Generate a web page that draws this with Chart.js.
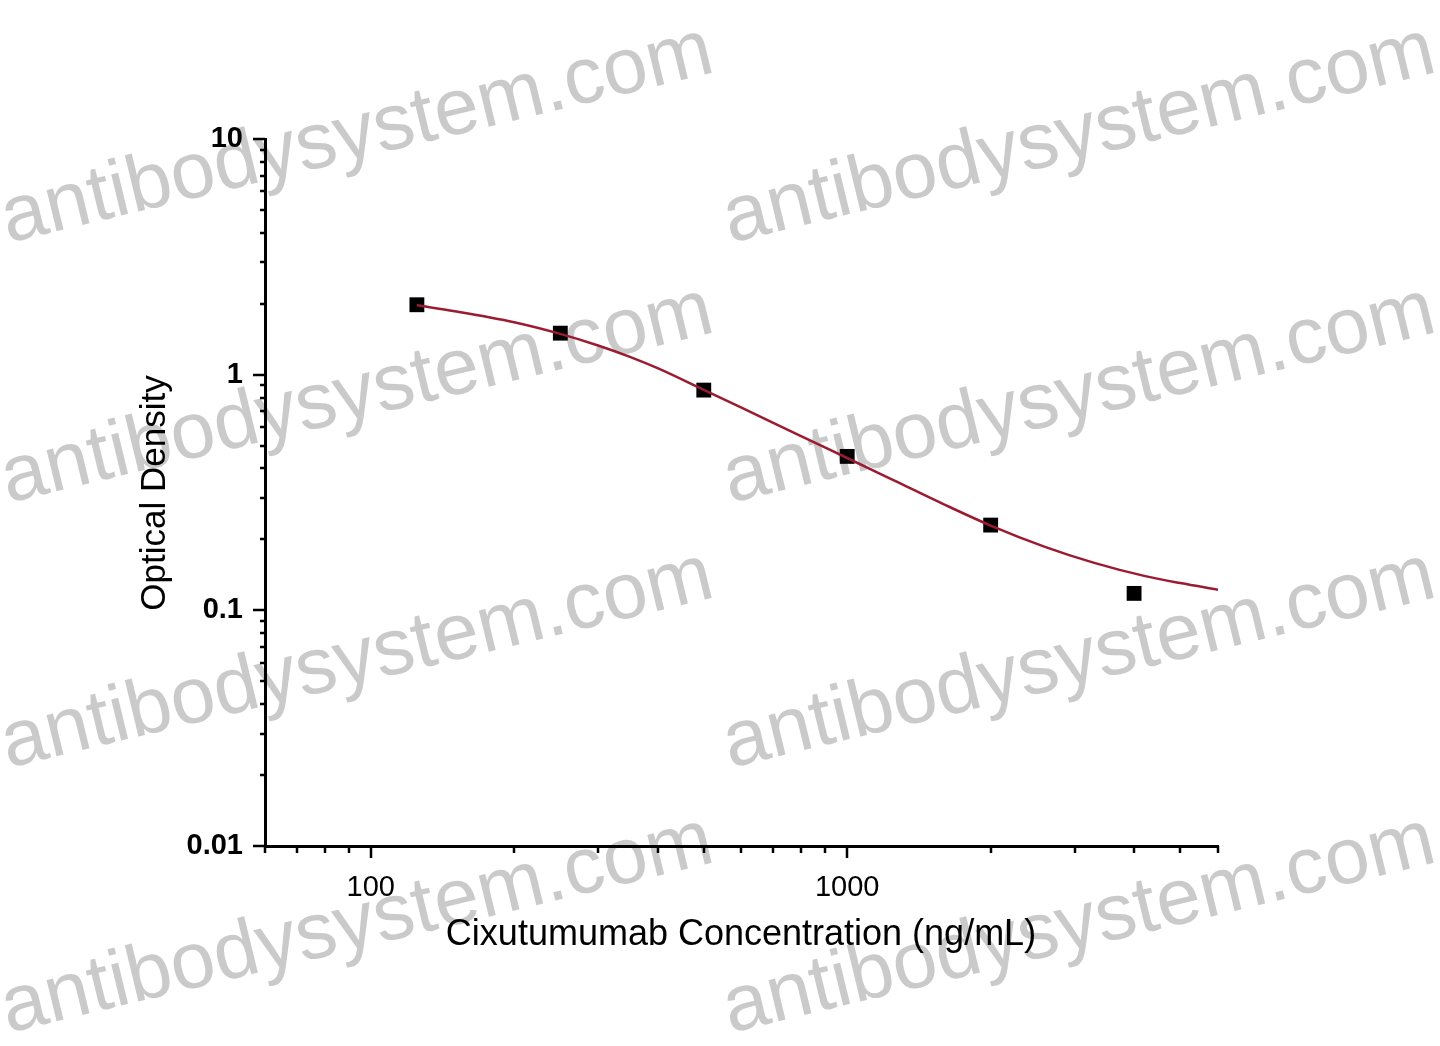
<!DOCTYPE html>
<html>
<head>
<meta charset="utf-8">
<script src="https://cdn.jsdelivr.net/npm/chart.js@4.4.1/dist/chart.umd.min.js"></script>
<style>
  html, body { margin: 0; padding: 0; background: #fff; }
  #wrap { width: 1440px; height: 1046px; }
</style>
</head>
<body>
<div id="wrap"><canvas id="chart" width="1440" height="1046"></canvas></div>
<script>
// === Data ===
const concentrations = [125, 250, 500, 1000, 2000, 4000];
const densities = [1.98, 1.50, 0.86, 0.45, 0.23, 0.118];

// fitted curve
const curveX = [125, 150, 200, 250, 300, 350, 400, 500, 600, 800, 1000, 1250, 1600, 2000, 2600, 3300, 4200, 5000, 6000];
const curveY = [1.97, 1.86, 1.67, 1.49, 1.33, 1.19, 1.065, 0.862, 0.725, 0.548, 0.443, 0.357, 0.281, 0.229, 0.186, 0.159, 0.140, 0.1305, 0.1223];

// axis ranges + labelled ticks
const xRange = [60, 6000];
const yRange = [0.01, 10];
const xTickLabels = [100, 1000];
const yTickLabels = [0.01, 0.1, 1, 10];

const xTitle = "Cixutumumab Concentration (ng/mL)";
const yTitle = "Optical Density";
const watermark = "antibodysystem.com";

const FONT = "'Liberation Sans', Arial, Helvetica, sans-serif";

// === Helpers ===
function logTicks(min, max) {
  const out = [];
  for (let e = Math.floor(Math.log10(min)); e <= Math.ceil(Math.log10(max)); e++) {
    for (let m = 1; m <= 9; m++) {
      const v = Number((m * Math.pow(10, e)).toPrecision(6));
      if (v >= min * 0.999 && v <= max * 1.001) out.push({ v, major: m === 1 });
    }
  }
  return out;
}

// === Plugins ===
const background = {
  id: "background",
  beforeDraw(chart) {
    const { ctx, width, height } = chart;
    ctx.save();
    ctx.fillStyle = "#fff";
    ctx.fillRect(0, 0, width, height);
    // watermark grid (2 columns x 4 rows)
    ctx.fillStyle = "#cacaca";
    ctx.font = `80px ${FONT}`;
    ctx.textBaseline = "alphabetic";
    const rows = [243, 503, 768, 1033];
    const cols = [8, 730];
    rows.forEach(ry => cols.forEach(cx => {
      ctx.save();
      ctx.translate(cx, ry);
      ctx.rotate(-13.6 * Math.PI / 180);
      ctx.fillText(watermark, 0, 0);
      ctx.restore();
    }));
    ctx.restore();
  }
};

const axisDecor = {
  id: "axisDecor",
  afterDraw(chart) {
    const { ctx, chartArea: a, scales: { x, y } } = chart;
    ctx.save();
    ctx.strokeStyle = "#000";
    ctx.lineWidth = 2.5;
    ctx.beginPath();
    logTicks(yRange[0], yRange[1]).forEach(t => {
      const p = Math.round(y.getPixelForValue(t.v));
      ctx.moveTo(a.left - (t.major ? 12 : 5), p);
      ctx.lineTo(a.left, p);
    });
    logTicks(xRange[0], xRange[1]).forEach(t => {
      const p = Math.round(x.getPixelForValue(t.v));
      ctx.moveTo(p, a.bottom);
      ctx.lineTo(p, a.bottom + (t.major ? 12 : 7));
    });
    ctx.stroke();

    // axis titles
    ctx.fillStyle = "#000";
    ctx.textAlign = "center";
    ctx.textBaseline = "middle";
    ctx.font = `36px ${FONT}`;
    ctx.fillText(xTitle, 741, 935);
    ctx.font = `35px ${FONT}`;
    ctx.translate(155, 493);
    ctx.rotate(-Math.PI / 2);
    ctx.fillText(yTitle, 0, 0);
    ctx.restore();
  }
};

// === Chart ===
new Chart(document.getElementById("chart").getContext("2d"), {
  type: "scatter",
  data: {
    datasets: [
      {
        label: "fit",
        data: curveX.map((v, i) => ({ x: v, y: curveY[i] })),
        showLine: true,
        borderColor: "#9b1b30",
        borderWidth: 2.5,
        pointRadius: 0,
        cubicInterpolationMode: "monotone",
        order: 0,
      },
      {
        label: "OD",
        data: concentrations.map((v, i) => ({ x: v, y: densities[i] })),
        pointStyle: "rect",
        pointRadius: 10.5,
        backgroundColor: "#000",
        borderWidth: 0,
        order: 1,
      }
    ]
  },
  options: {
    responsive: false,
    animation: false,
    devicePixelRatio: 1,
    layout: { padding: { top: 139, right: 222, left: 0, bottom: 0 } },
    plugins: { legend: { display: false }, tooltip: { enabled: false } },
    scales: {
      x: {
        type: "logarithmic",
        min: xRange[0],
        max: xRange[1],
        afterBuildTicks: (s) => { s.ticks = xTickLabels.map(v => ({ value: v })); },
        afterFit: (s) => { s.height = 200; },
        grid: { display: false, drawTicks: false },
        border: { display: true, color: "#000", width: 3 },
        ticks: {
          padding: 25,
          color: "#000",
          maxRotation: 0,
          autoSkip: false,
          font: { family: FONT, size: 29 },
          callback: (v) => String(v),
        },
      },
      y: {
        type: "logarithmic",
        min: yRange[0],
        max: yRange[1],
        afterBuildTicks: (s) => { s.ticks = yTickLabels.map(v => ({ value: v })); },
        afterFit: (s) => { s.width = 265; },
        grid: { display: false, drawTicks: false },
        border: { display: true, color: "#000", width: 3 },
        ticks: {
          padding: 22,
          color: "#000",
          autoSkip: false,
          font: { family: FONT, size: 29, weight: "bold" },
          callback: (v) => String(v),
        },
      }
    }
  },
  plugins: [background, axisDecor]
});
</script>
</body>
</html>
